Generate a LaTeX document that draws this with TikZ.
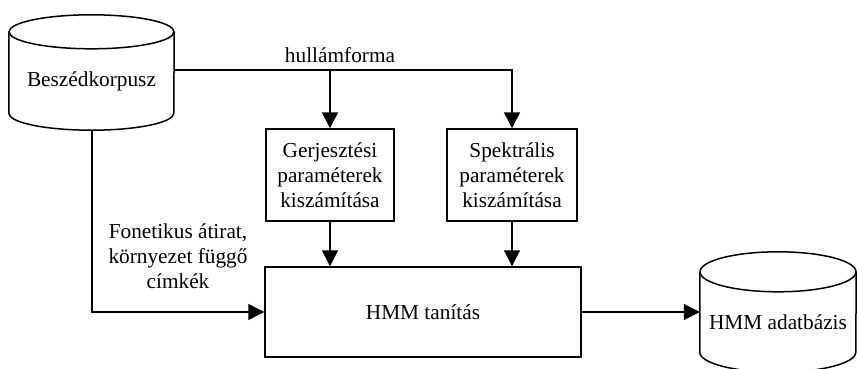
\documentclass[tikz,border=0pt]{standalone}
\usepackage{fontspec}
\setmainfont{Liberation Serif}
\usetikzlibrary{arrows.meta}
\newcommand{\dbcyl}[3]{%
  \draw[lineb] ([yshift=#2]#1.north west) -- (#1.south west)
    arc[start angle=180,end angle=360,x radius=#3,y radius=#2]
    -- ([yshift=#2]#1.north east);
  \draw[lineb] ([yshift=#2]#1.north) ellipse[x radius=#3,y radius=#2];
}
\begin{document}
\begin{tikzpicture}[x=1pt,y=-1pt,
  lineb/.style={line width=1.5pt,line join=miter},
  arr/.style={lineb,-{Triangle[length=16pt,width=16pt]}},
  txt/.style={font=\fontsize{21.3}{25}\selectfont},
  procbox/.style={lineb,draw,rectangle,inner sep=0pt,align=center,txt},
  dbnode/.style={rectangle,inner sep=0pt,align=center,txt}]
\useasboundingbox (0,0) rectangle (857,368);
% cylinders (text regions)
\node[dbnode,minimum width=165pt,minimum height=64pt] (korpusz) at (91.5,81) {Beszédkorpusz};
\dbcyl{korpusz}{17pt}{82.5pt}
\node[dbnode,minimum width=156pt,minimum height=60pt] (hmmdb) at (778,322) {HMM adatbázis};
\dbcyl{hmmdb}{20pt}{78pt}
% process boxes
\node[procbox,minimum width=128pt,minimum height=92pt] (gerj) at (330,175) {Gerjesztési\\paraméterek\\kiszámítása};
\node[procbox,minimum width=130pt,minimum height=92pt] (spekt) at (512,175) {Spektrális\\paraméterek\\kiszámítása};
\node[procbox,minimum width=316pt,minimum height=90pt] (hmm) at (423,312) {HMM tanítás};
% labels
\node[txt] (hull) at (340,55) {hullámforma};
\node[txt,align=center] (fon) at (178,256) {Fonetikus átirat,\\környezet függő\\címkék};
% connectors
\coordinate (src) at (174,70);
\coordinate (split) at (512,70);
\coordinate (bot) at (92,130);
\draw[arr] (src) -- (split) -- (spekt.north);
\draw[arr] (gerj.north |- split) -- (gerj.north);
\draw[arr] (gerj.south) -- (gerj.south |- hmm.north);
\draw[arr] (spekt.south) -- (spekt.south |- hmm.north);
\draw[arr] (bot) |- (hmm.west);
\draw[arr] (hmm.east) -- (hmm.east -| hmmdb.west);
\end{tikzpicture}
\end{document}
